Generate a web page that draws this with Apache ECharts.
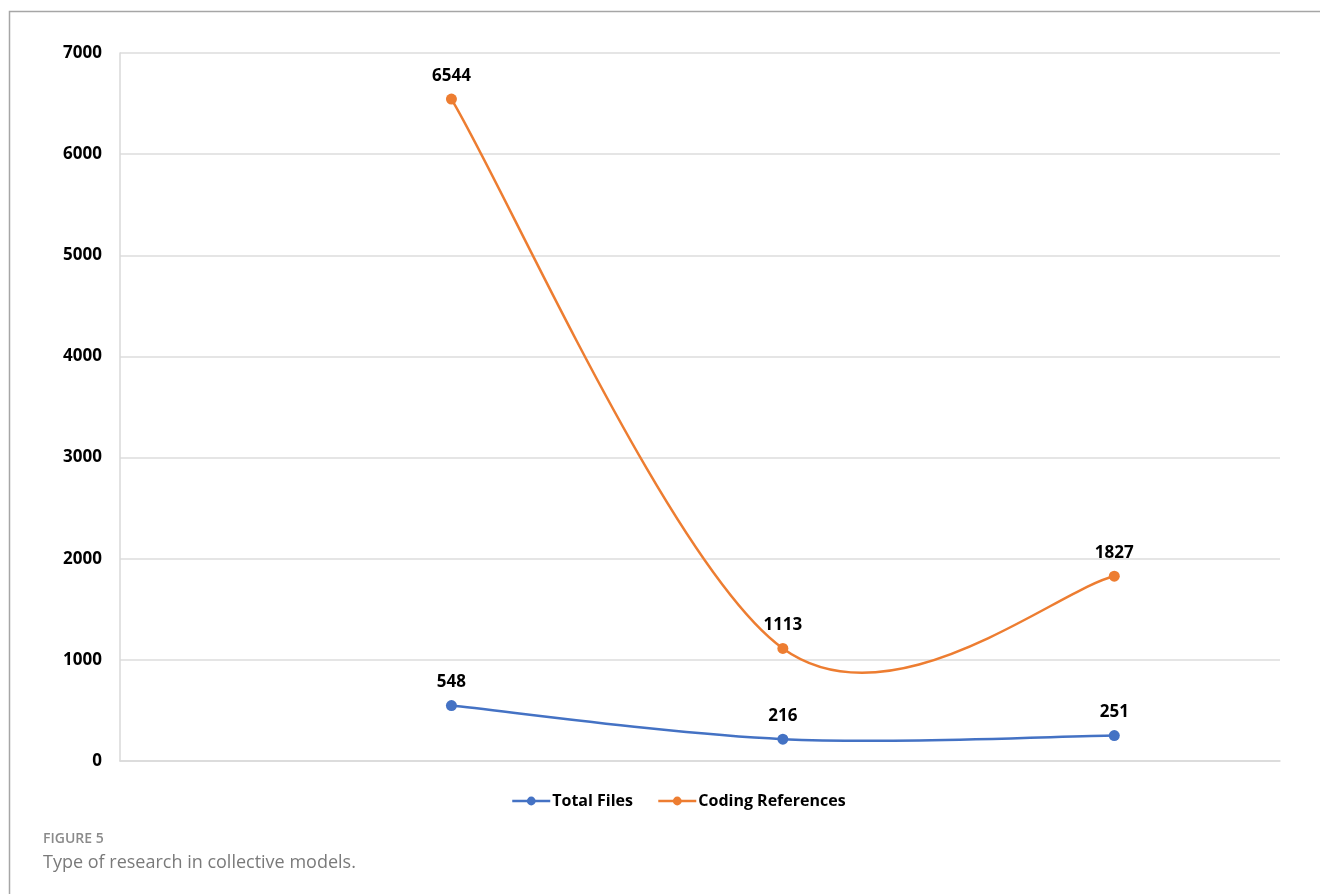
<!DOCTYPE html>
<html>
<head>
<meta charset="utf-8">
<script src="https://cdn.jsdelivr.net/npm/echarts@6/dist/echarts.min.js"></script>
<style>
  html, body { margin: 0; padding: 0; background: #fff; }
  #chart { width: 1320px; height: 894px; }
</style>
</head>
<body>
<div id="chart"></div>
<script>
// Positions of the three groups along the horizontal axis (axis runs 0 to 3.5)
const positions = [1, 2, 3];
const totalFiles = [548, 216, 251];
const codingReferences = [6544, 1113, 1827];
const seriesNames = ['Total Files', 'Coding References'];
const seriesColors = ['#4472C4', '#ED7D31'];
const yTicks = { min: 0, max: 7000, interval: 1000 };
const captionLabel = 'FIGURE 5';
const captionText = 'Type of research in collective models.';

const chart = echarts.init(document.getElementById('chart'), null, { renderer: 'canvas' });

const labelFont = {
  fontFamily: 'Open Sans, Liberation Sans, sans-serif',
  fontWeight: 'bold',
  fontSize: 17,
  color: '#000'
};

// Markers and value labels for one series (its own connecting line is hidden;
// the smoothed curve is drawn by the matching custom series below).
function markerSeries(name, values, color) {
  return {
    name: name,
    type: 'line',
    symbol: 'circle',
    symbolSize: 11,
    data: values.map((v, i) => [positions[i], v]),
    lineStyle: { width: 0, opacity: 0 },
    itemStyle: { color: color },
    label: Object.assign({
      show: true,
      position: 'top',
      distance: 9,
      formatter: p => p.value[1]
    }, labelFont),
    z: 4
  };
}

// Cardinal-spline curve through the points (tension 1/6 per side, endpoints
// reuse themselves as outer neighbours), segment i runs from point i to i+1.
function curveSeries(name, values, color) {
  const pts = values.map((v, i) => [positions[i], v]);
  return {
    name: name,
    type: 'custom',
    data: pts.slice(0, -1),
    silent: true,
    z: 3,
    renderItem: function (params, api) {
      const i = params.dataIndex;
      const n = pts.length;
      const c = k => api.coord(pts[Math.max(0, Math.min(n - 1, k))]);
      const p0 = c(i - 1), p1 = c(i), p2 = c(i + 1), p3 = c(i + 2);
      const cp1 = [p1[0] + (p2[0] - p0[0]) / 6, p1[1] + (p2[1] - p0[1]) / 6];
      const cp2 = [p2[0] - (p3[0] - p1[0]) / 6, p2[1] - (p3[1] - p1[1]) / 6];
      return {
        type: 'bezierCurve',
        shape: {
          x1: p1[0], y1: p1[1],
          x2: p2[0], y2: p2[1],
          cpx1: cp1[0], cpy1: cp1[1],
          cpx2: cp2[0], cpy2: cp2[1]
        },
        style: { stroke: color, lineWidth: 2.5, fill: null }
      };
    }
  };
}

chart.setOption({
  animation: false,
  backgroundColor: '#fff',
  grid: { left: 120, right: 40, top: 53, bottom: 133 },
  xAxis: {
    type: 'value',
    min: 0,
    max: 3.5,
    axisLine: { show: true, lineStyle: { color: '#d9d9d9', width: 1.5 } },
    axisTick: { show: false },
    axisLabel: { show: false },
    splitLine: { show: false }
  },
  yAxis: {
    type: 'value',
    min: yTicks.min,
    max: yTicks.max,
    interval: yTicks.interval,
    axisLine: { show: true, lineStyle: { color: '#d9d9d9', width: 1.5 } },
    axisTick: { show: false },
    axisLabel: Object.assign({ margin: 18, formatter: v => String(v) }, labelFont),
    splitLine: { show: true, lineStyle: { color: '#dcdcdc', width: 1.5 } }
  },
  legend: {
    data: seriesNames.map((name, i) => ({
      name: name,
      lineStyle: { color: seriesColors[i], width: 2.5, opacity: 1 },
      itemStyle: { color: seriesColors[i] }
    })),
    left: 506,
    top: 788,
    itemWidth: 38,
    itemHeight: 11,
    itemGap: 24,
    textStyle: Object.assign({}, labelFont, { fontSize: 16, padding: [0, 0, 0, -3] })
  },
  series: [
    markerSeries(seriesNames[0], totalFiles, seriesColors[0]),
    markerSeries(seriesNames[1], codingReferences, seriesColors[1]),
    curveSeries(seriesNames[0], totalFiles, seriesColors[0]),
    curveSeries(seriesNames[1], codingReferences, seriesColors[1])
  ],
  graphic: [
    {
      type: 'rect',
      shape: { x: 9.5, y: 11.5, width: 1400, height: 1000 },
      style: { fill: 'none', stroke: '#a6a6a6', lineWidth: 1.5 },
      silent: true
    },
    {
      type: 'text',
      left: 43,
      top: 832,
      style: {
        text: captionLabel,
        fill: '#8a8a8a',
        font: '600 14px "Open Sans", sans-serif'
      }
    },
    {
      type: 'text',
      left: 43,
      top: 854,
      style: {
        text: captionText,
        fill: '#7a7a7a',
        font: '18px "Open Sans", sans-serif'
      }
    }
  ]
});
</script>
</body>
</html>
